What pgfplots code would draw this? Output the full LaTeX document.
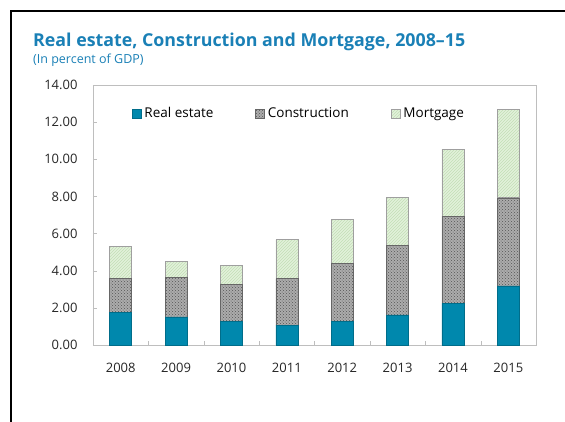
\documentclass[border=0pt]{standalone}
\usepackage{pgfplots}
\pgfplotsset{compat=1.18}
\usepackage{fontspec}
\setmainfont{Open Sans}
\usetikzlibrary{patterns}
\definecolor{reteal}{RGB}{0,136,173}
\definecolor{titleblue}{RGB}{26,128,182}
\definecolor{mortfill}{RGB}{226,241,218}
\definecolor{mortline}{RGB}{195,222,182}
\definecolor{consfill}{RGB}{172,172,172}
\definecolor{consline}{RGB}{85,85,85}
\definecolor{axisgray}{RGB}{190,190,190}
\begin{document}
\begin{tikzpicture}
\path[use as bounding box] (-93pt,-76pt) rectangle (472pt,345pt);
\draw[line width=2.5pt] (-81.75pt,-80pt) -- (-81.75pt,333.75pt) -- (472pt,333.75pt);
\node[anchor=base west, inner sep=0pt, text=titleblue, font=\bfseries\fontsize{17.8}{20}\selectfont] at (-60pt,298.5pt) {Real estate, Construction and Mortgage, 2008–15};
\node[anchor=base west, inner sep=0pt, text=titleblue, font=\fontsize{12.5}{14}\selectfont] at (-60pt,281pt) {(In percent of GDP)};
\begin{axis}[
  at={(0pt,0pt)}, anchor=south west,
  scale only axis, width=443pt, height=260pt,
  ybar stacked, bar width=22pt,
  xmin=-0.5, xmax=7.5, ymin=0, ymax=14,
  axis line style={axisgray},
  xtick={0,1,2,3,4,5,6,7},
  xticklabels={2008,2009,2010,2011,2012,2013,2014,2015},
  major x tick style={draw=none},
  minor xtick={0.5,1.5,2.5,3.5,4.5,5.5,6.5},
  minor tick length=4pt, major tick length=4pt,
  ytick={0,2,4,6,8,10,12,14},
  tick align=inside, tick style={axisgray},
  ytick pos=left, xtick pos=bottom,
  /pgf/number format/assume math mode=true,
  ticklabel style={font=\fontsize{13}{15}\selectfont, text=black!85},
  yticklabel style={xshift=-12pt, /pgf/number format/fixed, /pgf/number format/fixed zerofill, /pgf/number format/precision=2},
  xticklabel style={yshift=-15pt},
  legend style={at={(0.465,0.89)}, anchor=center, draw=none, fill=none,
    legend columns=3, font=\fontsize{13.5}{15}\selectfont,
    /tikz/every even column/.append style={column sep=40pt},
    /tikz/every odd column/.append style={column sep=1pt}},
  legend image code/.code={\draw[#1] (0pt,-4.5pt) rectangle (9pt,4.5pt);},
]
\addplot[fill=reteal, draw=reteal!80!black, line width=0.4pt] coordinates {
(0,1.74) (1,1.51) (2,1.29) (3,1.06) (4,1.26) (5,1.62) (6,2.24) (7,3.18)};
\addplot[fill=consfill, draw=gray!80!black, line width=0.4pt,
  postaction={pattern=crosshatch dots, pattern color=consline}] coordinates {
(0,1.85) (1,2.13) (2,1.98) (3,2.53) (4,3.14) (5,3.75) (6,4.69) (7,4.75)};
\addplot[fill=mortfill, draw=gray!75, line width=0.6pt,
  postaction={pattern=north east lines, pattern color=mortline}] coordinates {
(0,1.74) (1,0.87) (2,1.02) (3,2.10) (4,2.35) (5,2.56) (6,3.62) (7,4.74)};
\legend{Real estate, Construction, Mortgage}
\end{axis}
\end{tikzpicture}
\end{document}
